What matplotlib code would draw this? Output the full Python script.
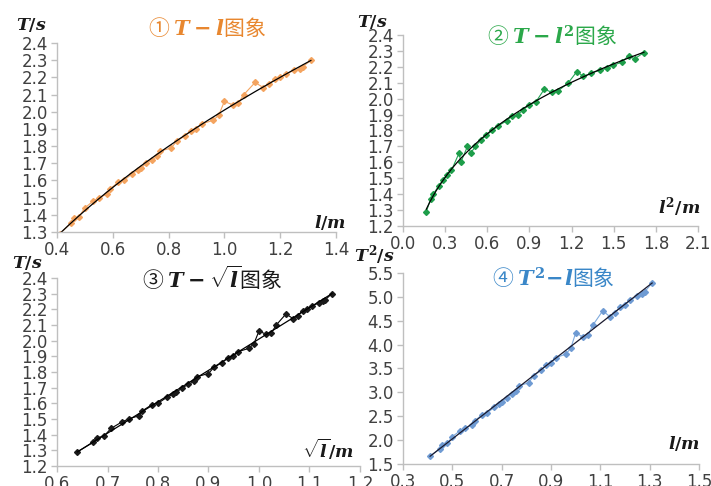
import numpy as np
import matplotlib
matplotlib.use('Agg')
import matplotlib.pyplot as plt
from matplotlib.ticker import FormatStrFormatter

plt.rcParams['font.family'] = ['DejaVu Sans']
plt.rcParams['mathtext.fontset'] = 'custom'
plt.rcParams['mathtext.it'] = 'DejaVu Serif:italic:bold'
plt.rcParams['mathtext.rm'] = 'DejaVu Serif:bold'
plt.rcParams['mathtext.bf'] = 'DejaVu Serif:bold'

# measured pendulum data: length l (m), period T (s)
l_vals = [0.41, 0.45, 0.46, 0.48, 0.50, 0.53, 0.55, 0.58, 0.59, 0.62,
          0.64, 0.67, 0.69, 0.70, 0.72, 0.74, 0.76, 0.77, 0.81, 0.83,
          0.86, 0.88, 0.90, 0.92, 0.96, 0.98, 1.00, 1.03, 1.05, 1.07,
          1.11, 1.14, 1.16, 1.18, 1.20, 1.22, 1.25, 1.27, 1.28, 1.31]
T_vals = [1.29, 1.35, 1.38, 1.39, 1.44, 1.48, 1.50, 1.52, 1.55, 1.59,
          1.60, 1.64, 1.66, 1.67, 1.70, 1.72, 1.74, 1.77, 1.79, 1.83,
          1.86, 1.89, 1.90, 1.93, 1.95, 1.98, 2.06, 2.04, 2.05, 2.10,
          2.17, 2.14, 2.16, 2.19, 2.20, 2.22, 2.24, 2.25, 2.26, 2.30]

# panel 2 as plotted (read separately, it differs slightly)
lsq_p2 = [0.166, 0.197, 0.214, 0.254, 0.285, 0.316, 0.345, 0.400, 0.411, 0.459,
          0.483, 0.516, 0.554, 0.594, 0.635, 0.678, 0.737, 0.773, 0.816, 0.856,
          0.897, 0.946, 1.006, 1.058, 1.106, 1.177, 1.237, 1.284, 1.339, 1.403,
          1.450, 1.498, 1.558, 1.605, 1.648, 1.715]
T_p2 = [1.29, 1.37, 1.40, 1.45, 1.49, 1.52, 1.55, 1.66, 1.60, 1.70,
        1.66, 1.70, 1.74, 1.77, 1.80, 1.83, 1.86, 1.89, 1.90, 1.93,
        1.96, 1.98, 2.06, 2.04, 2.05, 2.10, 2.17, 2.14, 2.16, 2.18,
        2.19, 2.21, 2.23, 2.27, 2.25, 2.29]

l = np.array(l_vals)
T = np.array(T_vals)
x2 = np.array(lsq_p2)
y2 = np.array(T_p2)

fig = plt.figure(figsize=(7.11, 4.86), dpi=100)

tick_col = '#404040'
spine_col = '#BFBFBF'


def style(ax, xt, yt):
    for s in ['top', 'right']:
        ax.spines[s].set_visible(False)
    for s in ['left', 'bottom']:
        ax.spines[s].set_color(spine_col)
        ax.spines[s].set_linewidth(1.0)
    ax.tick_params(direction='out', length=4, width=1, color=spine_col,
                   labelsize=12, labelcolor=tick_col, pad=2.5)
    ax.set_xticks(xt)
    ax.set_yticks(yt)
    ax.xaxis.set_major_formatter(FormatStrFormatter('%.1f'))
    ax.yaxis.set_major_formatter(FormatStrFormatter('%.1f'))


def power_fit(x, y):
    b, a = np.polyfit(np.log(x), np.log(y), 1)
    xs = np.linspace(x.min(), x.max(), 200)
    return xs, np.exp(a) * xs ** b


def lin_fit(x, y):
    k, c = np.polyfit(x, y, 1)
    xs = np.linspace(x.min(), x.max(), 50)
    return xs, k * xs + c


# panel 1: T - l
ax1 = fig.add_axes([0.080, 0.5226, 0.3926, 0.389])
ax1.plot(l, T, color='#F4A460', lw=0.8, marker='D', ms=3, mec='#F4A460', mfc='#F4A460')
xs, ys = power_fit(l, T)
ax1.plot(xs, ys, color='black', lw=0.9)
ax1.set_xlim(0.4, 1.4)
ax1.set_ylim(1.3, 2.4)
style(ax1, np.arange(0.4, 1.41, 0.2), np.arange(1.3, 2.41, 0.1))

# panel 2: T - l^2
ax2 = fig.add_axes([0.5668, 0.535, 0.415, 0.393])
ax2.plot(x2, y2, color='#23A455', lw=0.8, marker='D', ms=3, mec='#1E9E4A', mfc='#1E9E4A')
xs, ys = power_fit(x2, y2)
ax2.plot(xs, ys, color='black', lw=0.9)
ax2.set_xlim(0.0, 2.1)
ax2.set_ylim(1.2, 2.4)
style(ax2, np.arange(0.0, 2.11, 0.3), np.arange(1.2, 2.41, 0.1))

# panel 3: T - sqrt(l)
ax3 = fig.add_axes([0.0802, 0.0412, 0.426, 0.387])
sq = np.sqrt(l)
ax3.plot(sq, T, color='black', lw=0.8, marker='D', ms=3, mec='#1a1a1a', mfc='#1a1a1a')
xs, ys = lin_fit(sq, T)
ax3.plot(xs, ys, color='black', lw=0.9)
ax3.set_xlim(0.6, 1.2)
ax3.set_ylim(1.2, 2.4)
style(ax3, np.arange(0.6, 1.21, 0.1), np.arange(1.2, 2.41, 0.1))

# panel 4: T^2 - l
ax4 = fig.add_axes([0.5668, 0.0453, 0.4163, 0.393])
T2 = T ** 2
ax4.plot(l, T2, color='#7FAADD', lw=0.8, marker='D', ms=3, mec='#6F9BD3', mfc='#6F9BD3')
xs, ys = lin_fit(l, T2)
ax4.plot(xs, ys, color='#1a1a2e', lw=0.9)
ax4.set_xlim(0.3, 1.5)
ax4.set_ylim(1.5, 5.5)
style(ax4, np.arange(0.3, 1.51, 0.2), np.arange(1.5, 5.51, 0.5))

# titles
tkw = dict(ha='center', va='center', fontsize=15, family='Noto Sans CJK SC')
fig.text(0.291, 0.942, '① $T-l$图象', color='#E8872F', **tkw)
fig.text(0.776, 0.926, '② $T-l^2$图象', color='#2BA84A', **tkw)
fig.text(0.298, 0.428, r'③ $T-\sqrt{l}$图象', color='#1a1a1a', **tkw)
fig.text(0.778, 0.428, '④ $T^2\\!-\\!l$图象', color='#3A87C8', **tkw)

# axis labels
akw = dict(ha='center', va='center', fontsize=12.5, color='#1a1a1a')
fig.text(0.044, 0.949, '$T/s$', **akw)
fig.text(0.464, 0.543, '$l/m$', **akw)
fig.text(0.523, 0.955, '$T/s$', **akw)
fig.text(0.955, 0.574, '$l^2/m$', **akw)
fig.text(0.039, 0.459, '$T/s$', **akw)
fig.text(0.461, 0.076, r'$\sqrt{l}/m$', **akw)
fig.text(0.527, 0.476, '$T^2/s$', **akw)
fig.text(0.962, 0.088, '$l/m$', **akw)

fig.savefig('out.png', dpi=100)
